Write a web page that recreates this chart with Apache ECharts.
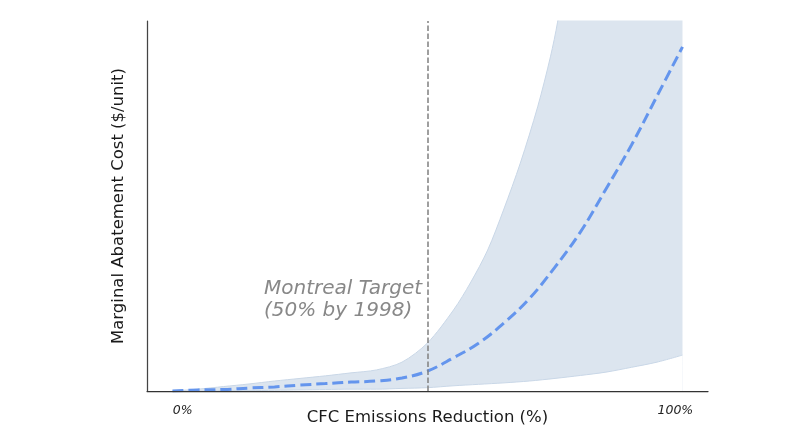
<!DOCTYPE html>
<html>
<head>
<meta charset="utf-8">
<script src="https://cdn.jsdelivr.net/npm/echarts@6/dist/echarts.min.js"></script>
<style>html,body{margin:0;padding:0;background:#fff}#c{width:800px;height:433px}</style>
</head>
<body>
<div id="c"></div>
<script>
// Emission reduction share (0 = 0%, 1 = 100%)
var reduction = [0, 0.05, 0.1, 0.15, 0.2, 0.25, 0.3, 0.35, 0.4, 0.45, 0.5, 0.55, 0.6, 0.65, 0.7, 0.75, 0.8, 0.85, 0.9, 0.95, 1.0];
// Central marginal abatement cost estimate (arbitrary units)
var costMid = [0, 0.3, 0.4, 0.8, 1.1, 1.6, 2.0, 2.4, 2.7, 3.5, 5.4, 8.9, 12.9, 18.4, 25.0, 33.5, 43.0, 54.6, 66.5, 79.7, 93.0];
// Lower bound of the uncertainty band (same x positions)
var costLower = [0, 0, 0.1, 0.1, 0.2, 0.3, 0.4, 0.5, 0.5, 0.7, 0.9, 1.4, 1.8, 2.2, 2.7, 3.4, 4.2, 5.1, 6.4, 7.8, 9.7];
// Upper bound of the uncertainty band (read at its own x positions)
var upperReduction = [0, 0.05, 0.1, 0.15, 0.2, 0.25, 0.3, 0.35, 0.4, 0.45, 0.5, 0.551, 0.584, 0.618, 0.649, 0.682, 0.716, 0.741, 0.755, 0.8, 0.9, 1.0];
var costUpper = [0, 0.5, 1.2, 1.9, 2.7, 3.4, 4.1, 4.9, 5.7, 7.8, 13.0, 21.9, 29.2, 38.1, 48.9, 61.6, 76.8, 90.3, 99.7, 137, 241, 365];
var targetX = 0.5;
var tickValues = [0.02, 0.986];
var tickLabels = ['0%', '100%'];
var annotation = 'Montreal Target\n(50% by 1998)';

var upperData = upperReduction.map(function (x, i) { return [x, costUpper[i]]; });
var lowerData = reduction.map(function (x, i) { return [x, costLower[i]]; });
var midData = reduction.map(function (x, i) { return [x, costMid[i]]; });

var chart = echarts.init(document.getElementById('c'));
var font = 'DejaVu Sans';
chart.setOption({
  animation: false,
  textStyle: { fontFamily: font },
  grid: { left: 147, top: 21, right: 92, bottom: 42, containLabel: false, outerBoundsMode: 'none' },
  xAxis: {
    type: 'value', min: -0.05, max: 1.05, z: 10,
    name: 'CFC Emissions Reduction (%)', nameLocation: 'middle', nameGap: 18, nameMoveOverlap: false,
    nameTextStyle: { fontFamily: font, fontSize: 16.5, color: '#1a1a1a' },
    axisLine: { show: true, onZero: false, lineStyle: { color: '#333', width: 1.25 } },
    axisTick: { show: false },
    splitLine: { show: false },
    axisLabel: {
      customValues: tickValues,
      margin: 13,
      fontFamily: font, fontSize: 12.5, fontStyle: 'italic', color: '#222',
      formatter: function (v) { var i = tickValues.indexOf(v); return i >= 0 ? tickLabels[i] : ''; }
    }
  },
  yAxis: {
    type: 'value', min: 0, max: 100, z: 10,
    name: 'Marginal Abatement Cost ($/unit)', nameLocation: 'middle', nameGap: 20, nameMoveOverlap: false,
    nameTextStyle: { fontFamily: font, fontSize: 16.5, color: '#1a1a1a' },
    axisLine: { show: true, onZero: false, lineStyle: { color: '#444', width: 1.25 } },
    axisTick: { show: false },
    axisLabel: { show: false },
    splitLine: { show: false }
  },
  series: [
    {
      type: 'line', data: upperData, symbol: 'none', smooth: 0.3, z: 1, silent: true,
      lineStyle: { color: '#c9d7e7', width: 1 },
      areaStyle: { color: '#dce5ef', opacity: 1, origin: 'start' }
    },
    {
      type: 'line', data: lowerData, symbol: 'none', smooth: 0.3, z: 2, silent: true,
      lineStyle: { color: '#c9d7e7', width: 1 },
      areaStyle: { color: '#ffffff', opacity: 1, origin: 'start' }
    },
    {
      type: 'line', data: midData, symbol: 'none', smooth: 0.4, z: 3,
      lineStyle: { color: '#6495ED', width: 3, type: [11, 5] },
      markLine: {
        silent: true, symbol: 'none', animation: false,
        label: { show: false },
        lineStyle: { color: '#808080', width: 1.5, type: [5.5, 2.5] },
        data: [{ xAxis: targetX }]
      }
    }
  ],
  graphic: [{
    type: 'text', left: 264, top: 278, z: 10,
    style: {
      text: annotation, fontFamily: font, fontSize: 20, fontStyle: 'italic',
      fill: '#888888', lineHeight: 22, align: 'left'
    }
  }]
});
</script>
</body>
</html>
